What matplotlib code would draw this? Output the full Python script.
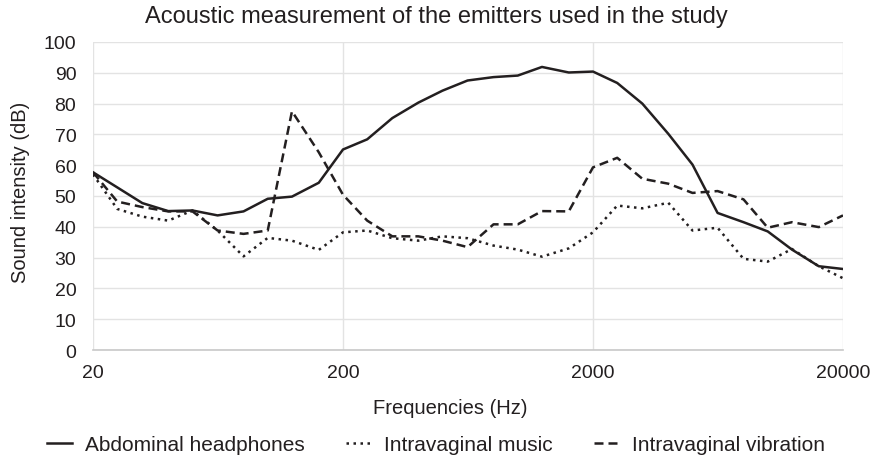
import numpy as np
import matplotlib.pyplot as plt
from matplotlib.ticker import FixedLocator, NullLocator

plt.rcParams['font.family'] = ['Liberation Sans', 'DejaVu Sans']

freqs = [20, 25, 31.5, 40, 50, 63, 80, 100, 125, 160, 200, 250, 315, 400, 500,
         630, 800, 1000, 1250, 1600, 2000, 2500, 3150, 4000, 5000, 6300, 8000,
         10000, 12500, 16000, 20000]

headphones = [57.7, 52.8, 47.7, 45.1, 45.3, 43.7, 45.0, 49.1, 49.8, 54.3, 65.1,
              68.4, 75.3, 80.3, 84.2, 87.5, 88.6, 89.1, 91.9, 90.1, 90.4,
              86.7, 80.0, 70.2, 60.2, 44.5, 41.5, 38.5, 32.6, 27.2, 26.3]

music = [57.0, 45.8, 43.3, 42.0, 45.3, 38.8, 30.4, 36.4, 35.5, 32.5, 38.2,
         38.8, 36.3, 35.5, 36.9, 36.3, 33.9, 32.6, 30.3, 33.0, 38.2,
         46.9, 46.0, 47.8, 38.8, 39.7, 29.6, 28.7, 32.8, 27.2, 23.3]

vibration = [57.7, 48.2, 46.4, 45.0, 45.0, 38.8, 37.7, 38.8, 77.5, 64.2, 50.4,
             42.0, 36.9, 36.9, 35.5, 33.4, 40.8, 40.8, 45.1, 45.0, 59.3,
             62.4, 55.6, 54.0, 51.0, 51.6, 48.9, 39.7, 41.5, 39.9, 43.7]

xticks = [20, 200, 2000, 20000]

fig = plt.figure(figsize=(8.72, 4.6), dpi=100)
ax = fig.add_axes([93 / 872, 1 - 351 / 460, 750 / 872, 308 / 460])

col = '#231f20'
ax.plot(freqs, headphones, color=col, lw=1.8, ls='-', label='Abdominal headphones')
ax.plot(freqs, music, color=col, lw=1.8, ls=(0, (1, 1.8)), label='Intravaginal music')
ax.plot(freqs, vibration, color=col, lw=1.8, ls=(0, (3.6, 2)), label='Intravaginal vibration')

ax.set_xscale('log')
ax.set_xlim(20, 20000)
ax.set_ylim(0, 100)
ax.xaxis.set_major_locator(FixedLocator(xticks))
ax.xaxis.set_minor_locator(NullLocator())
ax.set_xticklabels([str(t) for t in xticks])
ax.set_yticks(range(0, 101, 10))
ax.tick_params(length=0, labelsize=14, colors='#231f20')
ax.tick_params(axis='x', pad=10)
ax.tick_params(axis='y', pad=12)

ax.grid(True, color='#e3e3e3', lw=1)
ax.set_axisbelow(True)
for s in ['top', 'right', 'left']:
    ax.spines[s].set_visible(False)
ax.spines['bottom'].set_color('#c8c8c8')
ax.spines['bottom'].set_linewidth(1.2)

fig.text(0.5, 1 - 17 / 460, 'Acoustic measurement of the emitters used in the study',
         fontsize=17, color='#231f20', ha='center', va='center')
ax.set_xlabel('Frequencies (Hz)', fontsize=14.5, color='#231f20')
ax.set_ylabel('Sound intensity (dB)', fontsize=14.5, color='#231f20')
ax.xaxis.set_label_coords(0.476, -0.155)
ax.yaxis.set_label_coords(-0.084, 0.515)

fig.legend(loc='center', bbox_to_anchor=(0.5, 1 - 446 / 460), ncol=3, frameon=False,
           fontsize=15, handlelength=1.2, handletextpad=0.6, columnspacing=2.0,
           labelcolor='#231f20')

fig.savefig('out.png', dpi=100)
